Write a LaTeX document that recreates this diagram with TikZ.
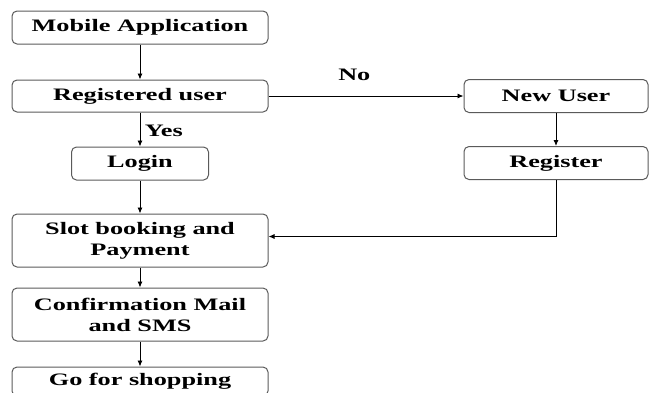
\documentclass[tikz,border=0pt]{standalone}
\usepackage{fontspec}
\setmainfont{Liberation Serif}[FakeStretch=1.5]
\usetikzlibrary{positioning, arrows.meta}
\definecolor{boxline}{HTML}{5A5A5A}

\begin{document}
\begin{tikzpicture}[
  x=1pt, y=-1pt,
  every node/.style={font=\fontsize{17.5}{21}\selectfont\bfseries},
  stepbox/.style={
    draw=boxline, line width=1pt, rounded corners=5pt,
    minimum width=256pt, minimum height=33pt, align=center, inner sep=2pt
  },
  arrow/.style={-{Latex[length=6pt, width=5pt]}, line width=0.9pt}
]
  \useasboundingbox (0,0) rectangle (649,392);

  \node[stepbox] (app) at (140,27.5) {Mobile Application};
  \node[stepbox, minimum height=32pt, below=35pt of app] (reg) {Registered user};
  \node[stepbox, minimum width=137pt, below=34pt of reg] (login) {Login};
  \node[stepbox, minimum height=53pt, below=33pt of login] (slot) {Slot booking and\\Payment};
  \node[stepbox, minimum height=53pt, below=20pt of slot] (conf) {Confirmation Mail\\and SMS};
  \node[stepbox, minimum height=29pt, below=25pt of conf] (shop) {Go for shopping};
  \node[stepbox, minimum width=184pt, right=195pt of reg] (newu) {New User};
  \node[stepbox, minimum width=184pt, below=33pt of newu] (regst) {Register};

  \draw[arrow] (app) -- (reg);
  \draw[arrow] (reg) -- node[pos=0.55, right=1pt] (yes) {Yes} (login);
  \draw[arrow] (reg) -- node[pos=0.44, above=12pt] (no) {No} (newu);
  \draw[arrow] (login) -- (slot);
  \draw[arrow] (newu) -- (regst);
  \draw[arrow] (regst.south) |- ([yshift=4pt]slot.east);
  \draw[arrow] (slot) -- (conf);
  \draw[arrow] (conf) -- (shop);
\end{tikzpicture}
\end{document}
